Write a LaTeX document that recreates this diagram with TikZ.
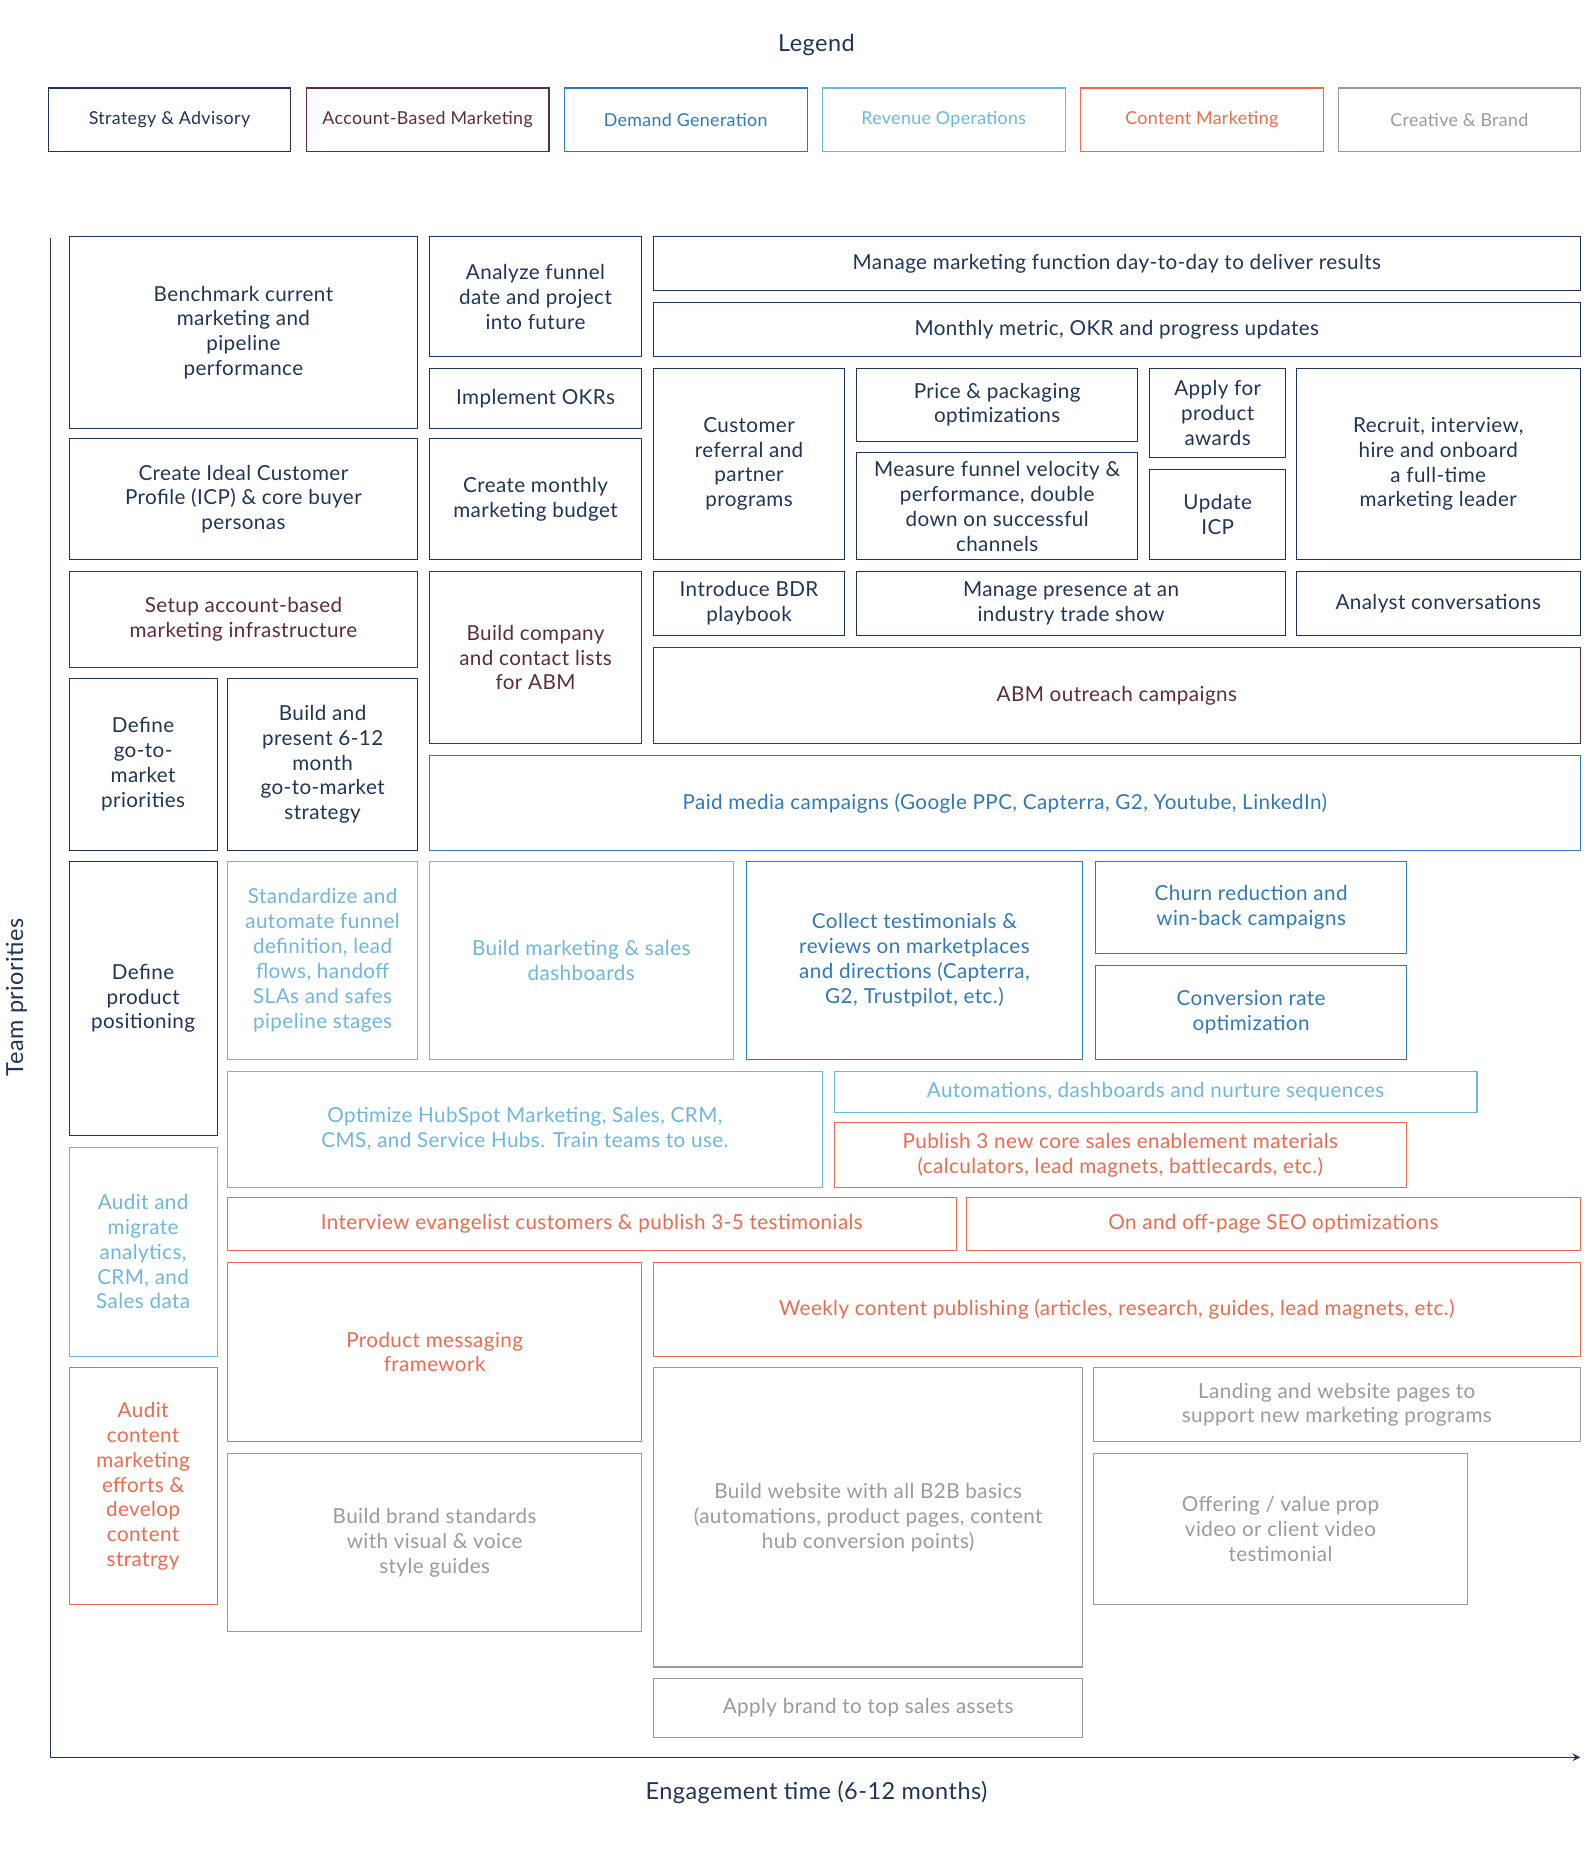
\documentclass[tikz,border=0pt]{standalone}
\usepackage{fontspec}
\setmainfont{Lato}[LetterSpace=2]
\usetikzlibrary{calc}
\definecolor{stratc}{HTML}{1F3557}
\definecolor{abmc}{HTML}{5E2B3C}
\definecolor{demc}{HTML}{2F78BC}
\definecolor{revc}{HTML}{6DB6E2}
\definecolor{conc}{HTML}{EE6A4E}
\definecolor{crec}{HTML}{9A9A9A}
\tikzset{
    strat/.style={draw=stratc, text=stratc},
    abm/.style={draw=abmc, text=abmc},
    dem/.style={draw=demc, text=demc},
    rev/.style={draw=revc, text=revc},
    con/.style={draw=conc, text=conc},
    cre/.style={draw=crec, text=crec},
    boxtext/.style={align=center, font=\fontsize{8.8}{10.6}\selectfont},
    legtext/.style={boxtext, font=\fontsize{7.6}{9}\selectfont},
}
% name, style, x1, y1, x2, y2, text
\newcommand\tbox[7]{%
    \draw[#2] (#3,#4) rectangle (#5,#6);
    \node[#2, draw=none, boxtext] (#1) at ($(#3,#4)!0.5!(#5,#6)$) {#7};}
\newcommand\lbox[7]{%
    \draw[#2] (#3,#4) rectangle (#5,#6);
    \node[#2, draw=none, legtext] (#1) at ($(#3,#4)!0.5!(#5,#6)$) {#7};}
\begin{document}
\begin{tikzpicture}[x=0.5pt, y=-0.5pt, line width=0.45pt]
    \useasboundingbox (0,0) rectangle (1360,1577);

    % Legend
    \node[text=stratc, font=\fontsize{10}{12}\selectfont] (legend) at (696,38) {Legend};
    \lbox{lstrat}{strat}{41}{75}{248}{129}{Strategy \& Advisory}
    \lbox{labm}{abm}{261}{75}{468}{129}{Account-Based Marketing}
    \lbox{ldem}{dem}{481}{75}{688}{129}{Demand Generation}
    \lbox{lrev}{rev}{701}{75}{908}{129}{Revenue Operations}
    \lbox{lcon}{con}{921}{75}{1128}{129}{Content Marketing}
    \lbox{lcre}{cre}{1141}{75}{1347}{129}{Creative \& Brand}

    % Axes
    \coordinate (origin) at (43,1498);
    \coordinate (ytop) at (43,203);
    \coordinate (xend) at (1347,1498);
    \draw[stratc] (ytop) -- (origin);
    \draw[stratc, ->, >=stealth] (origin) -- (xend);
    \node[text=stratc, rotate=90, font=\fontsize{10}{12}\selectfont] (ylabel) at (14,850) {Team priorities};
    \node[text=stratc, font=\fontsize{10}{12}\selectfont] (xlabel) at (696,1528) {Engagement time (6-12 months)};

    % Strategy & Advisory
    \tbox{bench}{strat}{59}{202}{356}{365}{Benchmark current\\marketing and\\pipeline\\performance}
    \tbox{funnel}{strat}{366}{202}{547}{304}{Analyze funnel\\date and project\\into future}
    \tbox{manage}{strat}{557}{202}{1347}{248}{Manage marketing function day-to-day to deliver results}
    \tbox{monthly}{strat}{557}{258}{1347}{304}{Monthly metric, OKR and progress updates}
    \tbox{okrs}{strat}{366}{314}{547}{365}{Implement OKRs}
    \tbox{referral}{strat}{557}{314}{720}{477}{Customer\\referral and\\partner\\programs}
    \tbox{price}{strat}{730}{314}{970}{376}{Price \& packaging\\optimizations}
    \tbox{velocity}{strat}{730}{386}{970}{477}{Measure funnel velocity \&\\performance, double\\down on successful\\channels}
    \tbox{awards}{strat}{980}{314}{1096}{390}{Apply for\\product\\awards}
    \tbox{updicp}{strat}{980}{400}{1096}{477}{Update\\ICP}
    \tbox{recruit}{strat}{1105}{314}{1347}{477}{Recruit, interview,\\hire and onboard\\a full-time\\marketing leader}
    \tbox{icp}{strat}{59}{374}{356}{477}{Create Ideal Customer\\Profile (ICP) \& core buyer\\personas}
    \tbox{budget}{strat}{366}{374}{547}{477}{Create monthly\\marketing budget}
    \tbox{bdr}{strat}{557}{487}{720}{542}{Introduce BDR\\playbook}
    \tbox{tradeshow}{strat}{730}{487}{1096}{542}{Manage presence at an\\industry trade show}
    \tbox{analyst}{strat}{1105}{487}{1347}{542}{Analyst conversations}
    \tbox{gtm}{strat}{59}{578}{185}{725}{Define\\go-to-\\market\\priorities}
    \tbox{gtmplan}{strat}{194}{578}{356}{725}{Build and\\present 6-12\\month\\go-to-market\\strategy}
    \tbox{position}{strat}{59}{734}{185}{968}{Define\\product\\positioning}

    % Account-Based Marketing
    \tbox{abminfra}{abm}{59}{487}{356}{569}{Setup account-based\\marketing infrastructure}
    \tbox{abmlists}{abm}{366}{487}{547}{634}{Build company\\and contact lists\\for ABM}
    \tbox{abmout}{abm}{557}{552}{1347}{634}{ABM outreach campaigns}

    % Demand Generation
    \tbox{paid}{dem}{366}{644}{1347}{725}{Paid media campaigns (Google PPC, Capterra, G2, Youtube, LinkedIn)}
    \tbox{reviews}{dem}{636}{734}{923}{903}{Collect testimonials \&\\reviews on marketplaces\\and directions (Capterra,\\G2, Trustpilot, etc.)}
    \tbox{churn}{dem}{934}{734}{1199}{813}{Churn reduction and\\win-back campaigns}
    \tbox{cro}{dem}{934}{823}{1199}{903}{Conversion rate\\optimization}

    % Revenue Operations
    \tbox{standard}{rev}{194}{734}{356}{903}{Standardize and\\automate funnel\\definition, lead\\flows, handoff\\SLAs and safes\\pipeline stages}
    \tbox{dash}{rev}{366}{734}{625}{903}{Build marketing \& sales\\dashboards}
    \tbox{hubspot}{rev}{194}{913}{701}{1012}{Optimize HubSpot Marketing, Sales, CRM,\\CMS, and Service Hubs. Train teams to use.}
    \tbox{auto}{rev}{711}{913}{1259}{948}{Automations, dashboards and nurture sequences}
    \tbox{migrate}{rev}{59}{978}{185}{1156}{Audit and\\migrate\\analytics,\\CRM, and\\Sales data}

    % Content Marketing
    \tbox{enable}{con}{711}{957}{1199}{1012}{Publish 3 new core sales enablement materials\\(calculators, lead magnets, battlecards, etc.)}
    \tbox{evangel}{con}{194}{1021}{815}{1066}{Interview evangelist customers \& publish 3-5 testimonials}
    \tbox{seo}{con}{824}{1021}{1347}{1066}{On and off-page SEO optimizations}
    \tbox{messaging}{con}{194}{1076}{547}{1229}{Product messaging\\framework}
    \tbox{weekly}{con}{557}{1076}{1347}{1156}{Weekly content publishing (articles, research, guides, lead magnets, etc.)}
    \tbox{auditcon}{con}{59}{1166}{185}{1368}{Audit\\content\\marketing\\efforts \&\\develop\\content\\stratrgy}

    % Creative & Brand
    \tbox{brand}{cre}{194}{1239}{547}{1391}{Build brand standards\\with visual \& voice\\style guides}
    \tbox{website}{cre}{557}{1166}{923}{1421}{Build website with all B2B basics\\(automations, product pages, content\\hub conversion points)}
    \tbox{landing}{cre}{932}{1166}{1347}{1229}{Landing and website pages to\\support new marketing programs}
    \tbox{video}{cre}{932}{1239}{1251}{1368}{Offering / value prop\\video or client video\\testimonial}
    \tbox{assets}{cre}{557}{1431}{923}{1481}{Apply brand to top sales assets}
\end{tikzpicture}
\end{document}
